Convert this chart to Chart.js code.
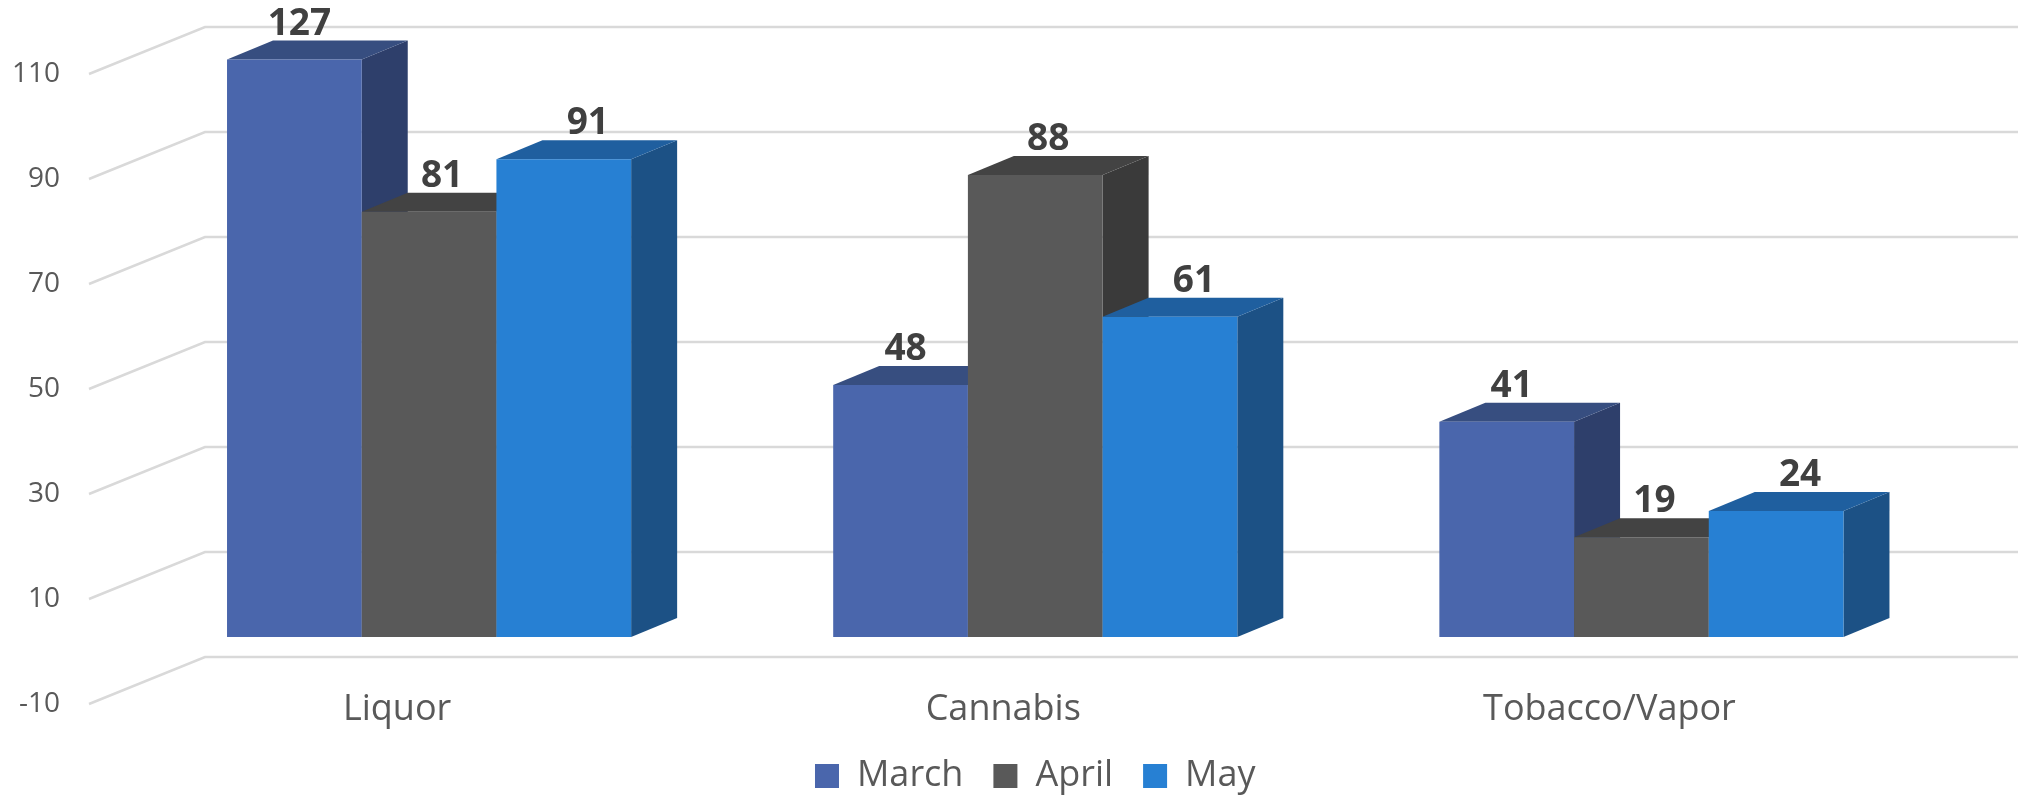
<!DOCTYPE html>
<html><head><meta charset="utf-8">
<script src="https://cdn.jsdelivr.net/npm/chart.js@4.4.1/dist/chart.umd.min.js"></script>
<style>html,body{margin:0;padding:0;background:#fff;} #wrap{width:2018px;height:800px;}</style>
</head><body><div id="wrap"><canvas id="c" width="2018" height="800"></canvas></div>
<script>
// ---- data ----
const categories = ['Liquor', 'Cannabis', 'Tobacco/Vapor'];
const seriesNames = ['March', 'April', 'May'];
const marchValues = [127, 48, 41];
const aprilValues = [81, 88, 19];
const mayValues = [91, 61, 24];
const yMin = -10, yMax = 110, yStep = 20;

// ---- styles ----
const frontColors = ['#4A66AC', '#595959', '#2780D3'];
const topColors = ['#374E80', '#434343', '#1F5F9F'];
const sideColors = ['#2E3F6B', '#3A3A3A', '#1C5185'];
const labelShift = [5, 13, 24];
const depthX = 46, depthY = 19, backShift = 32.5;

function poly(ctx, pts) {
  ctx.beginPath();
  ctx.moveTo(pts[0][0], pts[0][1]);
  for (let k = 1; k < pts.length; k++) ctx.lineTo(pts[k][0], pts[k][1]);
  ctx.closePath();
  ctx.fill();
}

const bars3d = {
  id: 'bars3d',
  afterLayout(chart) {
    const lg = chart.legend;
    if (lg) { lg.left += 63; lg.right += 63; lg.top += 4; lg.bottom += 4; }
    const xs = chart.scales.x;
    xs.bottom += 20;
  },
  beforeDatasetsDraw(chart) {
    const ctx = chart.ctx, ys = chart.scales.y, area = chart.chartArea;
    ctx.save();
    // back-wall gridlines with perspective side wall
    ctx.strokeStyle = '#D9D9D9';
    ctx.lineWidth = 2.5;
    ys.ticks.forEach(t => {
      const yb = ys.getPixelForValue(t.value) - backShift;
      ctx.beginPath();
      ctx.moveTo(area.left - 37, yb + 47);
      ctx.lineTo(area.left + 79, yb);
      ctx.lineTo(chart.width, yb);
      ctx.stroke();
    });
    // 3D bars
    const tops = [];
    chart.data.datasets.forEach((ds, i) => {
      const meta = chart.getDatasetMeta(i);
      if (meta.hidden) return;
      meta.data.forEach((el, j) => {
        const p = el.getProps(['x', 'y', 'base', 'width'], true);
        const x0 = p.x - p.width / 2, x1 = p.x + p.width / 2;
        const top = Math.max(p.y, area.top);
        const base = p.base;
        ctx.fillStyle = sideColors[i];
        poly(ctx, [[x1, top], [x1 + depthX, top - depthY], [x1 + depthX, base - depthY], [x1, base]]);
        ctx.fillStyle = topColors[i];
        poly(ctx, [[x0, top], [x0 + depthX, top - depthY], [x1 + depthX, top - depthY], [x1, top]]);
        ctx.fillStyle = frontColors[i];
        ctx.fillRect(x0, top, p.width, base - top);
        tops.push({x: p.x + labelShift[i], y: top, v: ds.data[j]});
      });
    });
    // data labels
    ctx.font = 'bold 37px "Open Sans"';
    ctx.fillStyle = '#404040';
    ctx.textAlign = 'center';
    ctx.textBaseline = 'alphabetic';
    tops.forEach(t => ctx.fillText(String(t.v), t.x, t.y - 25));
    ctx.restore();
    return false;
  }
};

new Chart(document.getElementById('c'), {
  type: 'bar',
  data: {
    labels: categories,
    datasets: [
      {label: seriesNames[0], data: marchValues, backgroundColor: frontColors[0]},
      {label: seriesNames[1], data: aprilValues, backgroundColor: frontColors[1]},
      {label: seriesNames[2], data: mayValues, backgroundColor: frontColors[2]}
    ]
  },
  options: {
    responsive: false,
    animation: false,
    devicePixelRatio: 1,
    layout: {padding: {top: 59.5, left: 0, right: 73.5, bottom: 0}},
    datasets: {bar: {categoryPercentage: 2 / 3, barPercentage: 1, borderWidth: 0}},
    plugins: {
      legend: {
        position: 'bottom',
        labels: {boxWidth: 24, boxHeight: 24, padding: 30, color: '#595959',
                 font: {family: '"Open Sans"', size: 36}}
      },
      tooltip: {enabled: false}
    },
    scales: {
      x: {
        grid: {display: false, drawTicks: false},
        border: {display: false},
        ticks: {color: '#595959', font: {family: '"Open Sans"', size: 36, lineHeight: 1},
                padding: 2.5, labelOffset: -32, maxRotation: 0, autoSkip: false},
        afterFit(s) { s.height = 34.5; s.paddingLeft = 0; s.paddingRight = 0; }
      },
      y: {
        min: yMin, max: yMax,
        grid: {display: false, drawTicks: false},
        border: {display: false},
        ticks: {stepSize: yStep, color: '#595959', font: {family: '"Open Sans"', size: 28},
                padding: 66, labelOffset: 15},
        afterFit(s) { s.width = 126; s.paddingTop = 0; s.paddingBottom = 0; }
      }
    }
  },
  plugins: [bars3d]
});
</script>
</body></html>
